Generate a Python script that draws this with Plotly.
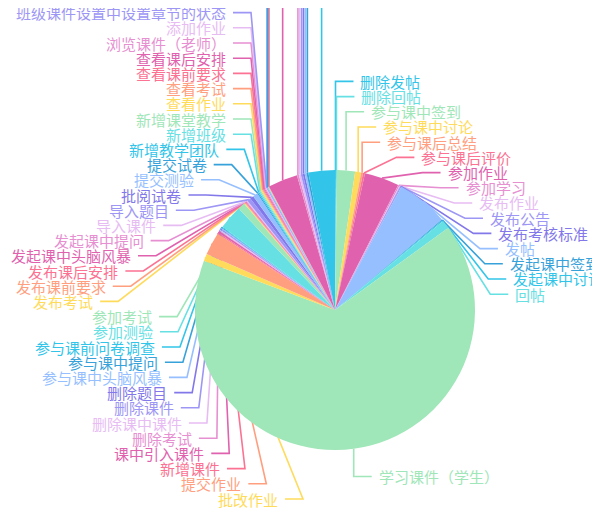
import math
import plotly.graph_objects as go

# slices in drawing order, clockwise from 12 o'clock
right_names = ["删除发帖", "删除回帖", "参与课中签到", "参与课中讨论", "参与课后总结",
               "参与课后评价", "参加作业", "参加学习", "发布作业", "发布公告",
               "发布考核标准", "发帖", "发起课中签到", "发起课中讨论", "回帖",
               "学习课件（学生）"]
right_values = [4, 4, 75, 25, 8, 8, 145, 6, 3, 3, 3, 215, 4, 4, 35, 2370]

left_names = ["批改作业", "提交作业", "新增课件", "课中引入课件", "删除考试",
              "删除课中课件", "删除课件", "删除题目", "参与课中头脑风暴", "参与课中提问",
              "参与课前问卷调查", "参加测验", "参加考试", "发布考试", "发布课前要求",
              "发布课后安排", "发起课中头脑风暴", "发起课中提问", "导入课件", "导入题目",
              "批阅试卷", "提交测验", "提交试卷", "新增教学团队", "新增班级",
              "新增课堂教学", "查看作业", "查看考试", "查看课前要求", "查看课后安排",
              "浏览课件（老师）", "添加作业", "班级课件设置中设置章节的状态"]
left_values = [30, 95, 5, 8, 3, 3, 3, 3, 4, 3,
               3, 100, 30, 3, 3, 3, 3, 3, 3, 15,
               15, 20, 5, 5, 5, 5, 5, 4, 4, 4,
               4, 3, 3]

# slices near the top whose labels were pushed off the chart (names not visible)
hidden_values = [1, 1, 1, 1, 1, 1, 1, 1, 1, 124, 8, 8, 8, 8, 8, 8, 110]

palette = ['#37a2da', '#32c5e9', '#67e0e3', '#9fe6b8', '#ffdb5c', '#ff9f7f', '#fb7293',
           '#e062ae', '#e690d1', '#e7bcf3', '#9d96f5', '#8378ea', '#96bfff']

# the page body adds an 8px margin, so work in figure coordinates
W, H = 592, 508
CX, CY, R = 327, 302, 140
LEN1 = 28          # natural label distance past the rim
LEN2 = 18          # horizontal tail of the leader line
GAP = 5
ROW = 15.2         # label row height
Y_MAX = 491
RIGHT_A, RIGHT_B = 156, 166
LEFT_A, LEFT_B = 158, 193
LEFT_TOP_DX0, LEFT_TOP_SLOPE, LEFT_TOP_MIN = 224, 0.83, 84
FONT = "Noto Sans CJK SC"

names = right_names + left_names + [""] * len(hidden_values)
values = right_values + left_values + hidden_values
colors = [palette[(i + 1) % len(palette)] for i in range(len(values))]

# geometry of every slice
total = sum(values)
items = []
acc = 0
for i, v in enumerate(values):
    mid = 2 * math.pi * (acc + v / 2) / total
    acc += v
    items.append(dict(
        i=i,
        side=1 if mid < math.pi else -1,
        ex=CX + R * math.sin(mid),
        ey=CY - R * math.cos(mid),
        ny=CY - (R + LEN1) * math.cos(mid),
    ))


def place(side_items):
    # stack overlapping labels in rows, centred on their slices
    side_items.sort(key=lambda d: d["ny"])
    clusters = [[d] for d in side_items]

    def top_of(c):
        if len(c) == 1:
            centre = c[0]["ny"]
        else:
            centre = sum(d["ey"] for d in c) / len(c)
        return centre - (len(c) - 1) * ROW / 2

    merged = True
    while merged:
        merged = False
        for k in range(len(clusters) - 1):
            a, b = clusters[k], clusters[k + 1]
            if top_of(a) + len(a) * ROW > top_of(b):
                clusters[k] = a + b
                del clusters[k + 1]
                merged = True
                break
    for c in clusters:
        t = top_of(c)
        for j, d in enumerate(c):
            d["y"] = t + j * ROW
    over = max(d["y"] for d in side_items) - Y_MAX
    if over > 0:
        for d in side_items:
            d["y"] -= over


def elbow_dx(d):
    dy = d["y"] - CY
    edge = abs(d["ex"] - CX)
    if d["side"] > 0:
        t = max(0.0, 1 - (dy / RIGHT_B) ** 2)
        return max(edge, RIGHT_A * math.sqrt(t))
    if dy > 0:
        t = max(0.0, 1 - (dy / LEFT_B) ** 2)
        return LEFT_A * math.sqrt(t)
    if d["y"] < 0:  # label off the top: leader runs straight up
        return edge
    return max(LEFT_TOP_MIN, LEFT_TOP_DX0 + LEFT_TOP_SLOPE * dy)


place([d for d in items if d["side"] > 0])
place([d for d in items if d["side"] < 0])

fig = go.Figure()

# leader lines (drawn under the pie)
line_xy = {}
annotations = []
for d in items:
    dx = elbow_dx(d)
    s = d["side"]
    x1 = CX + s * dx
    x2 = x1 + s * LEN2
    c = colors[d["i"]]
    xs, ys = line_xy.setdefault(c, ([], []))
    xs += [d["ex"], x1, x2, None]
    ys += [d["ey"], d["y"], d["y"], None]
    if names[d["i"]]:
        annotations.append(dict(
            x=x2 + s * GAP, y=d["y"], xref="x", yref="y",
            text=names[d["i"]], showarrow=False,
            xanchor="left" if s > 0 else "right", yanchor="middle",
            font=dict(family=FONT, size=15, color=c),
        ))

for c, (xs, ys) in line_xy.items():
    fig.add_trace(go.Scatter(x=xs, y=ys, mode="lines",
                             line=dict(color=c, width=1.6),
                             hoverinfo="skip", showlegend=False))

fig.add_trace(go.Pie(
    values=values,
    text=names,
    textinfo="none",
    hovertemplate="%{text}: %{value}<extra></extra>",
    sort=False,
    direction="clockwise",
    rotation=0,
    marker=dict(colors=colors, line=dict(width=0)),
    domain=dict(x=[(CX - R) / W, (CX + R) / W],
                y=[(H - CY - R) / H, (H - CY + R) / H]),
    showlegend=False,
))

fig.update_layout(
    width=W, height=H,
    margin=dict(l=0, r=0, t=0, b=0),
    paper_bgcolor="white",
    plot_bgcolor="rgba(0,0,0,0)",
    annotations=annotations,
    font=dict(family=FONT),
)
fig.update_xaxes(range=[0, W], visible=False, fixedrange=True)
fig.update_yaxes(range=[H, 0], visible=False, fixedrange=True)

fig.write_html("out.html")
